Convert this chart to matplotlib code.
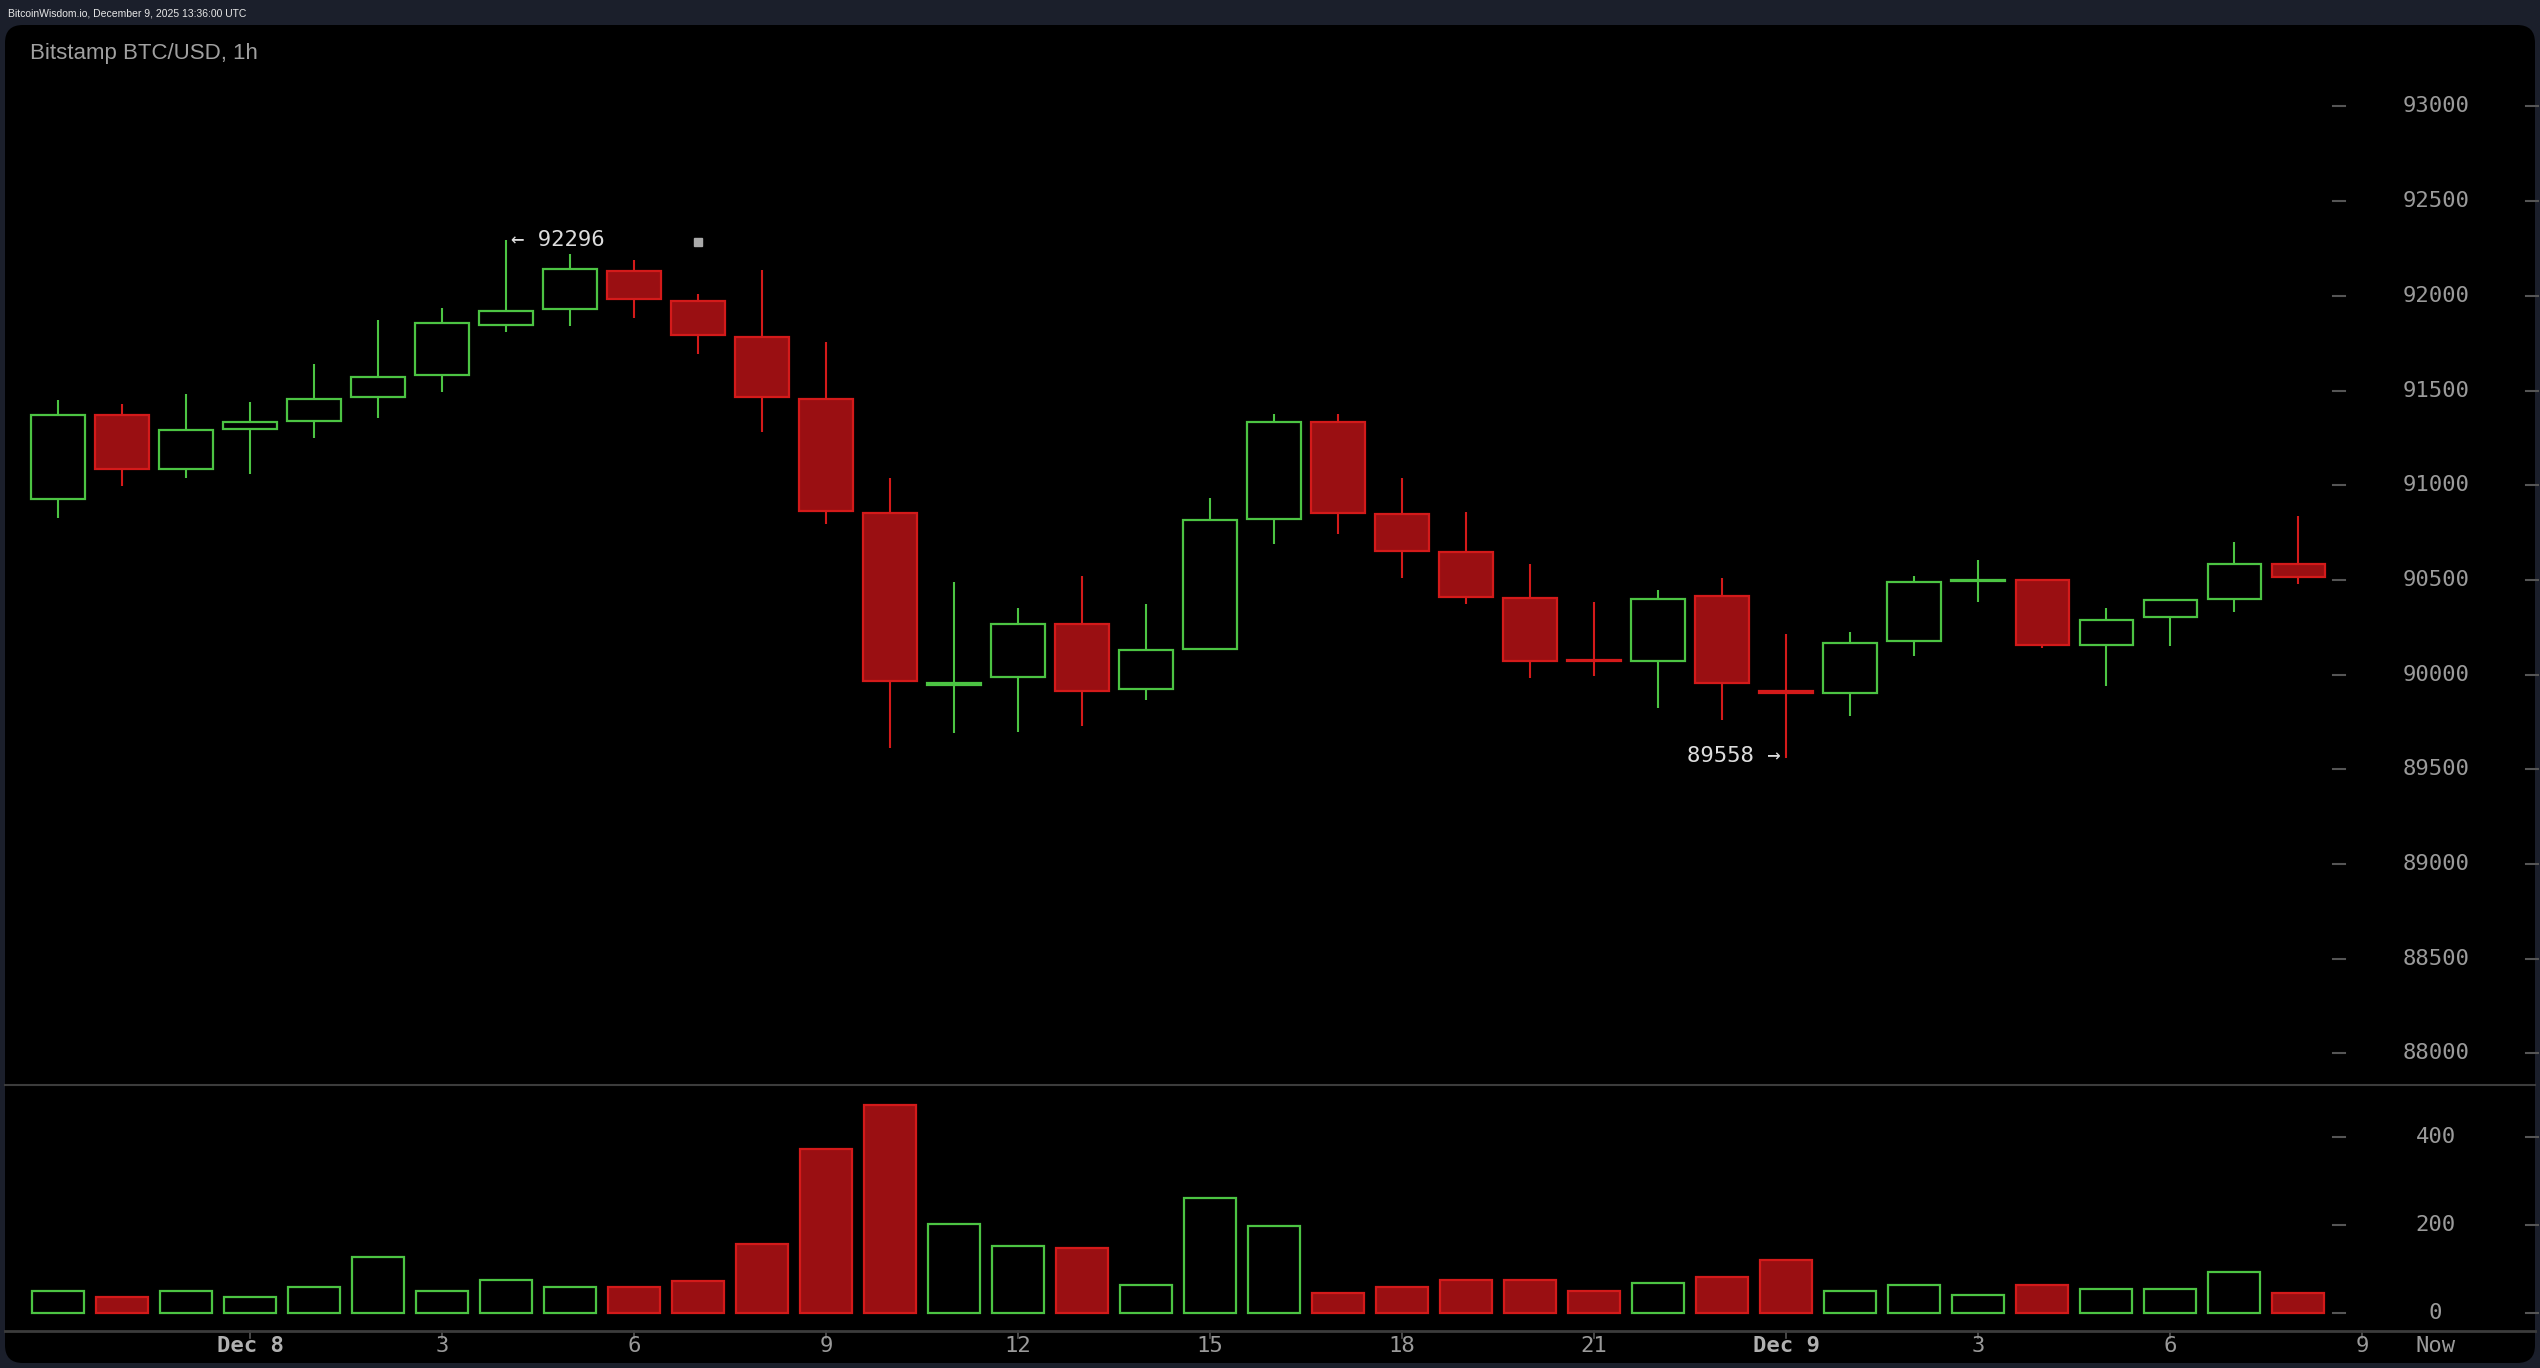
import matplotlib.pyplot as plt
import numpy as np
from matplotlib.patches import FancyBboxPatch

# hourly candles, first one is Dec 7 21:00
opens = [90928, 91373, 91084, 91296, 91340, 91465, 91581, 91845, 91929, 92133,
         91975, 91785, 91457, 90855, 89945, 89988, 90266, 89923, 90136, 90822,
         91333, 90847, 90646, 90403, 90076, 90071, 90414, 89915, 89903, 90178,
         90494, 90498, 90155, 90303, 90400, 90583]
highs = [91450, 91429, 91482, 91440, 91640, 91873, 91936, 92296, 92221, 92190,
         92010, 92137, 91757, 91039, 90489, 90352, 90521, 90373, 90933, 91376,
         91376, 91039, 90859, 90584, 90384, 90447, 90511, 90215, 90225, 90521,
         90606, 90498, 90352, 90393, 90701, 90838]
lows = [90829, 90998, 91040, 91061, 91251, 91357, 91494, 91811, 91843, 91885,
        91695, 91283, 90797, 89615, 89689, 89699, 89731, 89866, 90130, 90692,
        90744, 90511, 90375, 89984, 89995, 89826, 89762, 89558, 89784, 90100,
        90385, 90143, 89942, 90153, 90333, 90480]
closes = [91373, 91084, 91290, 91333, 91457, 91573, 91859, 91922, 92144, 91982,
          91792, 91465, 90863, 89965, 89958, 90266, 89912, 90129, 90815, 91333,
          90852, 90651, 90409, 90071, 90072, 90401, 89955, 89903, 90169, 90488,
          90499, 90155, 90287, 90393, 90583, 90514]
volumes = [49, 36, 49, 36, 58, 126, 49, 76, 58, 58,
           72, 157, 373, 472, 202, 153, 148, 63, 261, 198,
           45, 58, 76, 76, 49, 67, 81, 121, 49, 63,
           40, 63, 54, 54, 94, 45]

price_ticks = [88000, 88500, 89000, 89500, 90000, 90500, 91000, 91500, 92000, 92500, 93000]
volume_ticks = [0, 200, 400]
time_tick_pos = [3, 6, 9, 12, 15, 18, 21, 24, 27, 30, 33, 36]
time_tick_labels = ['Dec 8', '3', '6', '9', '12', '15', '18', '21', 'Dec 9', '3', '6', '9']

GREEN = '#4cc443'
RED_EDGE = '#d41a1a'
RED_FILL = '#9a0f12'
LABEL = '#9a9a9a'
MONO = 'DejaVu Sans Mono'

W, H = 2540, 1368
fig = plt.figure(figsize=(W / 100, H / 100), dpi=100)
fig.patch.set_facecolor('#1b1f2b')

# black rounded panel
panel = FancyBboxPatch((5 / W, 5 / H), 2530 / W, 1338 / H,
                       boxstyle='round,pad=0,rounding_size=0.007',
                       transform=fig.transFigure, facecolor='black',
                       edgecolor='none', mutation_aspect=W / H, zorder=-10)
fig.patches.append(panel)

fig.text(8 / W, 1 - 13 / H, 'BitcoinWisdom.io, December 9, 2025 13:36:00 UTC',
         color='#e8e8e8', fontsize=7.5, va='center', ha='left',
         family='Liberation Sans')
fig.text(30 / W, 1 - 54 / H, 'Bitstamp BTC/USD, 1h', color='#a0a0a0',
         fontsize=16, va='center', ha='left', family='Liberation Sans')

x = np.arange(len(opens))
xlim = (-0.906, 38.78)

ax = fig.add_axes([0, (H - 1085) / H, 1, 1060 / H])
axv = fig.add_axes([0, (H - 1330) / H, 1, 245 / H])
for a in (ax, axv):
    a.set_facecolor('none')
    a.set_xlim(*xlim)
    a.axis('off')
ax.set_ylim(87833, 93430)
axv.set_ylim(-38.6, 517.6)

o = np.array(opens)
c = np.array(closes)
up = c >= o
body_lo = np.minimum(o, c)
body_h = np.maximum(np.abs(c - o), 4)

# wicks
ax.vlines(x[up], np.array(lows)[up], np.array(highs)[up], color=GREEN, lw=1.5, zorder=1)
ax.vlines(x[~up], np.array(lows)[~up], np.array(highs)[~up], color=RED_EDGE, lw=1.5, zorder=1)
# bodies
ax.bar(x[up], body_h[up], 0.83, bottom=body_lo[up], facecolor='black',
       edgecolor=GREEN, lw=1.6, zorder=2)
ax.bar(x[~up], body_h[~up], 0.83, bottom=body_lo[~up], facecolor=RED_FILL,
       edgecolor=RED_EDGE, lw=1.6, zorder=2)

vol = np.array(volumes)
axv.bar(x[up], vol[up], 0.82, facecolor='black', edgecolor=GREEN, lw=1.6)
axv.bar(x[~up], vol[~up], 0.82, facecolor=RED_FILL, edgecolor=RED_EDGE, lw=1.6)

# high / low annotations
ih = int(np.argmax(highs))
il = int(np.argmin(lows))
ax.annotate(f'← {highs[ih]}', (x[ih], highs[ih]), xytext=(5, 0),
            textcoords='offset pixels', ha='left', va='center',
            color='#dddddd', fontsize=16, family=MONO)
ax.annotate(f'{lows[il]} →', (x[il], lows[il]), xytext=(-5, 2),
            textcoords='offset pixels', ha='right', va='center',
            color='#dddddd', fontsize=16, family=MONO)
ax.plot([10], [92283], 's', color='#aaaaaa', ms=6)

# right-hand scales
label_x = 37.15
for a, ticks in ((ax, price_ticks), (axv, volume_ticks)):
    for t in ticks:
        a.text(label_x, t, str(t), color=LABEL, fontsize=16, family=MONO,
               ha='center', va='center')
        a.plot([35.55, 35.74], [t, t], color='#555555', lw=1.5)
        a.plot([38.56, 38.75], [t, t], color='#555555', lw=1.5)

# panel separators
fig.add_artist(plt.Line2D([5 / W, 2535 / W], [(H - 1085) / H] * 2,
                          color='#3c3c3c', lw=1.5))
fig.add_artist(plt.Line2D([5 / W, 2535 / W], [(H - 1330.5) / H] * 2,
                          color='#3c3c3c', lw=2))

# time axis
for p, lab in zip(time_tick_pos, time_tick_labels):
    axv.plot([p, p], [-41, -57], color='#555555', lw=1.2, clip_on=False)
    bold = lab.startswith('Dec')
    axv.text(p, -75, lab, color='#b0b0b0' if bold else LABEL, fontsize=16,
             family=MONO, ha='center', va='center',
             fontweight='bold' if bold else 'normal', clip_on=False)
axv.text(label_x, -75, 'Now', color=LABEL, fontsize=16, family=MONO,
         ha='center', va='center', clip_on=False)

fig.savefig('out.png', dpi=100, facecolor=fig.get_facecolor())
